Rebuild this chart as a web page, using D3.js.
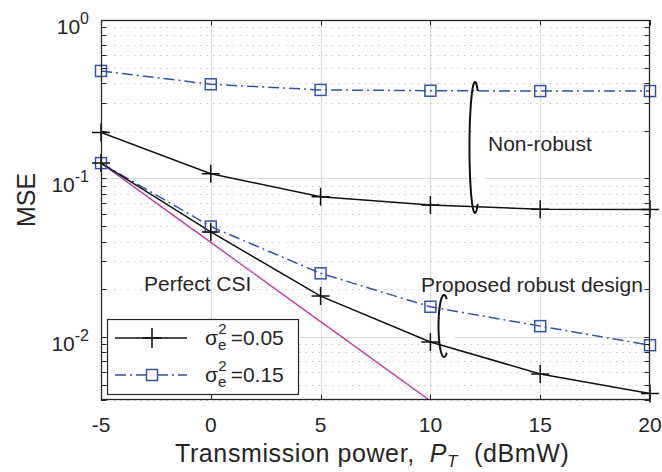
<!DOCTYPE html>
<html>
<head>
<meta charset="utf-8">
<script src="https://cdn.jsdelivr.net/npm/d3@7/dist/d3.min.js"></script>
<style>
  html, body { margin: 0; padding: 0; background: #fff; }
  svg { display: block; }
  text { font-family: "Liberation Sans", Arial, Helvetica, sans-serif; fill: #262626; }
</style>
</head>
<body>
<svg id="chart" width="662" height="472"></svg>
<script>
// ---------------- data ----------------
const powerDbm = [-5, 0, 5, 10, 15, 20];
const nonRobust005 = [0.195, 0.107, 0.0768, 0.068, 0.064, 0.0636];
const nonRobust015 = [0.477, 0.393, 0.362, 0.358, 0.356, 0.356];
const robust005 = [0.125, 0.046, 0.0181, 0.0093, 0.00584, 0.0044];
const robust015 = [0.125, 0.0497, 0.0252, 0.0155, 0.0117, 0.00887];
const perfectX = [-5, 0, 5, 10];
const perfectCSI = [0.125, 0.0395, 0.0125, 0.00395];
const xTicks = [-5, 0, 5, 10, 15, 20];
const yMajorExp = [-2, -1, 0];
const legendLabels = ["0.05", "0.15"];

// ---------------- layout ----------------
const svg = d3.select("#chart");
const L = 101, R = 650, T = 20, B = 400;
const x = d3.scaleLinear().domain([-5, 20]).range([L, R]);
const y = d3.scaleLog().domain([0.004, 1]).range([B, T]);
const axisColor = "#262626";
const blue = "#3553a8";
const magenta = "#c43fa3";

svg.append("rect").attr("x", L).attr("y", T).attr("width", R - L).attr("height", B - T).attr("fill", "#fff");

const clipId = "plotclip";
svg.append("clipPath").attr("id", clipId).append("rect")
  .attr("x", L).attr("y", T).attr("width", R - L).attr("height", B - T);

const minorVals = [];
[0.001, 0.01, 0.1].forEach(d => { for (let k = 2; k <= 9; k++) { const v = d * k; if (v >= 0.004 - 1e-9 && v < 1) minorVals.push(v); } });

const grid = svg.append("g");
grid.selectAll("line.minor").data(minorVals).join("line")
  .attr("x1", L).attr("x2", R)
  .attr("y1", d => Math.round(y(d)) + 0.5).attr("y2", d => Math.round(y(d)) + 0.5)
  .attr("stroke", "#bdbdbd").attr("stroke-width", 1).attr("stroke-dasharray", "1.2,5.4");
grid.selectAll("line.majy").data(yMajorExp.filter(e => e < 0)).join("line")
  .attr("x1", L).attr("x2", R)
  .attr("y1", e => Math.round(y(Math.pow(10, e))) + 0.5).attr("y2", e => Math.round(y(Math.pow(10, e))) + 0.5)
  .attr("stroke", "#dedede").attr("stroke-width", 1.2);
grid.selectAll("line.majx").data(xTicks.filter(t => t > -5 && t < 20)).join("line")
  .attr("x1", t => Math.round(x(t)) + 0.5).attr("x2", t => Math.round(x(t)) + 0.5)
  .attr("y1", T).attr("y2", B)
  .attr("stroke", "#dedede").attr("stroke-width", 1.2);

const ellipses = [
  { cx: 12.03, top: 0.406, bottom: 0.0606 },
  { cx: 10.62, top: 0.0184, bottom: 0.00748 }
];
svg.selectAll("rect.patch").data(ellipses).join("rect")
  .attr("x", d => x(d.cx) + 1).attr("width", 9)
  .attr("y", d => y(d.top) + 10).attr("height", d => y(d.bottom) - y(d.top) - 20)
  .attr("fill", "#fff");

const plot = svg.append("g").attr("clip-path", `url(#${clipId})`);
const line = (xs, ys) => d3.line().x((d, i) => x(xs[i])).y(d => y(d))(ys);

plot.append("path").attr("d", line(perfectX, perfectCSI))
  .attr("fill", "none").attr("stroke", magenta).attr("stroke-width", 1.4);

const series = [
  { v: nonRobust015, color: blue, dash: "11,4,2,4", marker: "square" },
  { v: robust015, color: blue, dash: "11,4,2,4", marker: "square" },
  { v: nonRobust005, color: "#111", dash: null, marker: "plus" },
  { v: robust005, color: "#111", dash: null, marker: "plus" }
];

const markersG = svg.append("g");
function drawMarker(g, type, cx, cy, color) {
  if (type === "square") {
    g.append("rect").attr("x", cx - 5.5).attr("y", cy - 5.5).attr("width", 11).attr("height", 11)
      .attr("fill", "none").attr("stroke", color).attr("stroke-width", 1.5);
  } else {
    g.append("path").attr("d", `M${cx - 9},${cy}H${cx + 9}M${cx},${cy - 9}V${cy + 9}`)
      .attr("stroke", color).attr("stroke-width", 1.5).attr("fill", "none");
  }
}
series.forEach(s => {
  plot.append("path").attr("d", line(powerDbm, s.v))
    .attr("fill", "none").attr("stroke", s.color).attr("stroke-width", 1.5)
    .attr("stroke-dasharray", s.dash);
  s.v.forEach((val, i) => drawMarker(markersG, s.marker, x(powerDbm[i]), y(val), s.color));
});

function ellPath(cx, cy, rx, ry) {
  const pts = [];
  for (let a = 60; a <= 300; a += 3) {
    const r = a * Math.PI / 180;
    pts.push([cx + rx * Math.cos(r), cy + ry * Math.sin(r)]);
  }
  return d3.line()(pts);
}
ellipses.forEach(e => {
  const yt = y(e.top), yb = y(e.bottom);
  svg.append("path").attr("d", ellPath(x(e.cx), (yt + yb) / 2, 5.5, (yb - yt) / 2))
    .attr("fill", "none").attr("stroke", "#111").attr("stroke-width", 2);
});

const fs = 21;
svg.append("text").attr("x", 488).attr("y", 151).attr("font-size", fs).text("Non-robust");
svg.append("text").attr("x", 421).attr("y", 292).attr("font-size", fs).text("Proposed robust design");
svg.append("text").attr("x", 144).attr("y", 291).attr("font-size", fs).text("Perfect CSI");

const ax = svg.append("g");
ax.append("rect").attr("x", L + 0.5).attr("y", T + 0.5).attr("width", R - L - 1).attr("height", B - T - 1)
  .attr("fill", "none").attr("stroke", axisColor).attr("stroke-width", 1.3);
const tl = 5.5;
xTicks.forEach(t => {
  const px = Math.round(x(t)) + 0.5;
  ax.append("line").attr("x1", px).attr("x2", px).attr("y1", B).attr("y2", B - tl).attr("stroke", axisColor);
  ax.append("line").attr("x1", px).attr("x2", px).attr("y1", T).attr("y2", T + tl).attr("stroke", axisColor);
});
const yTickVals = minorVals.concat(yMajorExp.map(e => Math.pow(10, e)));
yTickVals.forEach(v => {
  const py = Math.round(y(v)) + 0.5;
  ax.append("line").attr("x1", L).attr("x2", L + tl).attr("y1", py).attr("y2", py).attr("stroke", axisColor);
  ax.append("line").attr("x1", R).attr("x2", R - tl).attr("y1", py).attr("y2", py).attr("stroke", axisColor);
});

svg.append("g").selectAll("text").data(xTicks).join("text")
  .attr("x", t => x(t)).attr("y", 432).attr("text-anchor", "middle").attr("font-size", 21)
  .text(t => String(t));

yMajorExp.forEach(e => {
  const t = svg.append("text").attr("x", 89).attr("y", y(Math.pow(10, e)) + 14)
    .attr("text-anchor", "end").attr("font-size", 21);
  t.append("tspan").text("10");
  t.append("tspan").attr("dy", -10).attr("font-size", 16).text(String(e));
});

// axis titles
const xt = svg.append("text").attr("x", 175).attr("y", 462).attr("text-anchor", "start")
  .attr("font-size", 25).style("white-space", "pre").style("letter-spacing", "0.6px");
xt.append("tspan").text("Transmission power,  ");
xt.append("tspan").attr("font-style", "italic").text("P");
xt.append("tspan").attr("font-style", "italic").attr("font-size", 17).attr("dy", 5).text("T");
xt.append("tspan").attr("dy", -5).attr("dx", 16).text("(dBmW)");

svg.append("text").attr("transform", "translate(35,200) rotate(-90)").attr("text-anchor", "middle")
  .attr("font-size", 25).text("MSE");

// legend
const lg = svg.append("g");
lg.append("rect").attr("x", 107.5).attr("y", 319.5).attr("width", 191).attr("height", 75)
  .attr("fill", "#fff").attr("stroke", axisColor).attr("stroke-width", 1.2);
const legendSeries = [
  { color: "#111", dash: null, marker: "plus", cy: 338 },
  { color: blue, dash: "11,4,2,4", marker: "square", cy: 375 }
];
legendSeries.forEach((s, i) => {
  lg.append("line").attr("x1", 115).attr("x2", 187).attr("y1", s.cy).attr("y2", s.cy)
    .attr("stroke", s.color).attr("stroke-width", 1.5).attr("stroke-dasharray", s.dash);
  if (s.marker === "plus") {
    lg.append("path").attr("d", `M${152 - 10},${s.cy}H${152 + 10}M152,${s.cy - 10}V${s.cy + 10}`)
      .attr("stroke", s.color).attr("stroke-width", 1.5);
  } else {
    lg.append("rect").attr("x", 152 - 5.5).attr("y", s.cy - 5.5).attr("width", 11).attr("height", 11)
      .attr("fill", "#fff").attr("stroke", s.color).attr("stroke-width", 1.5);
  }
  const t = lg.append("text").attr("x", 205).attr("y", s.cy + 7).attr("font-size", 21);
  t.append("tspan").text("σ");
  t.append("tspan").attr("font-size", 15).attr("dy", 5).text("e");
  t.append("tspan").attr("font-size", 15).attr("dx", -8).attr("dy", -16).text("2");
  t.append("tspan").attr("dy", 11).attr("dx", 4).text("=" + legendLabels[i]);
});
</script>
</body>
</html>
